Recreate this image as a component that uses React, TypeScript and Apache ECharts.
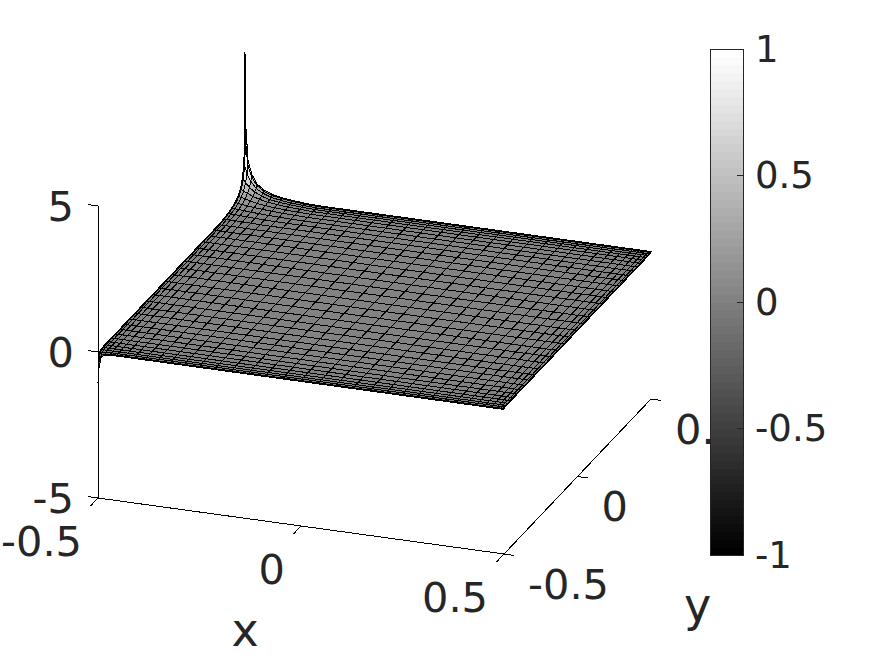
import React, { useEffect, useRef } from "react";
import * as echarts from "echarts";

// graded mesh coordinates of the surface (same for x and y)
const gridCoords = [
  -0.5, -0.4981, -0.4924, -0.483, -0.4698, -0.4532, -0.433, -0.4096, -0.383, -0.3536,
  -0.3214, -0.2868, -0.25, -0.2113, -0.171, -0.1294, -0.0868, -0.0436, 0,
  0.0436, 0.0868, 0.1294, 0.171, 0.2113, 0.25, 0.2868, 0.3214, 0.3536, 0.383,
  0.4096, 0.433, 0.4532, 0.4698, 0.483, 0.4924, 0.4981, 0.5,
];
// heights near the corner x=-0.5, y=0.5 (rows go from y=0.5 inwards, columns from x=-0.5 inwards)
const farCornerZ = [
  [4.9, 2.4, 1.2, 0.75, 0.45, 0.28, 0.17, 0.1, 0.06, 0.02],
  [2.4, 1.9, 1.1, 0.7, 0.43, 0.27, 0.16, 0.1, 0.06, 0.02],
  [1.2, 1.1, 0.85, 0.6, 0.38, 0.25, 0.15, 0.09, 0.05, 0.02],
  [0.75, 0.7, 0.6, 0.45, 0.32, 0.21, 0.13, 0.08, 0.05, 0.02],
  [0.45, 0.43, 0.38, 0.32, 0.24, 0.17, 0.11, 0.07, 0.04, 0.02],
  [0.28, 0.27, 0.25, 0.21, 0.17, 0.12, 0.08, 0.05, 0.03, 0.01],
  [0.17, 0.16, 0.15, 0.13, 0.11, 0.08, 0.06, 0.04, 0.02, 0.01],
  [0.1, 0.1, 0.09, 0.08, 0.07, 0.05, 0.04, 0.02, 0.01, 0],
  [0.06, 0.06, 0.05, 0.05, 0.04, 0.03, 0.02, 0.01, 0, 0],
  [0.02, 0.02, 0.02, 0.02, 0.02, 0.01, 0.01, 0, 0, 0],
];
// heights near the corner x=-0.5, y=-0.5 (rows from y=-0.5 inwards, columns from x=-0.5 inwards)
const nearCornerZ = [
  [-1, -0.55, -0.12, -0.02],
  [-0.55, -0.3, -0.08, -0.02],
  [-0.12, -0.08, -0.04, 0],
  [-0.02, -0.02, 0, 0],
];
// small boundary layers along the y=-0.5 and y=0.5 edges, from the edge inwards
const frontEdgeZ = [-0.05, -0.03, -0.01];
const farEdgeZ = [0.05, 0.03, 0.01];
const xTicks = [-0.5, 0, 0.5];
const yTicks = [-0.5, 0, 0.5];
const zTicks = [-5, 0, 5];
const colorbarTicks = [-1, -0.5, 0, 0.5, 1];

const last = gridCoords.length - 1;
const heightAt = (i: number, j: number) => {
  const fj = last - j;
  let z = 0;
  if (fj < farEdgeZ.length) z += farEdgeZ[fj];
  if (j < frontEdgeZ.length) z += frontEdgeZ[j];
  if (fj < farCornerZ.length && i < farCornerZ[0].length) z += farCornerZ[fj][i];
  if (j < nearCornerZ.length && i < nearCornerZ[0].length) z += nearCornerZ[j][i];
  return z;
};

// parallel projection of the 3D box onto the page scale
const project = (x: number, y: number, z: number) => [
  98 + (x + 0.5) * 406 + (y + 0.5) * 147,
  352 + (x + 0.5) * 56 - (y + 0.5) * 155 - z * 29.2,
];

const grayOf = (z: number) => {
  const k = Math.max(0, Math.min(63, Math.floor(((z + 1) / 2) * 64)));
  const v = Math.round((k / 63) * 255);
  return `rgb(${v},${v},${v})`;
};

const FONT = '"DejaVu Sans"';
const INK = "#262626";

const cells: number[][] = [];
for (let j = last - 1; j >= 0; j--) for (let i = 0; i < last; i++) cells.push([i, j]);

const zLow = -5;
const segments = [
  [[-0.5, -0.5, zLow], [0.5, -0.5, zLow]],
  [[0.5, -0.5, zLow], [0.5, 0.5, zLow]],
  [[-0.5, -0.5, zLow], [-0.5, -0.5, 5]],
  ...xTicks.map((v) => [[v, -0.5, zLow], [v, -0.55, zLow]]),
  ...yTicks.map((v) => [[0.5, v, zLow], [0.525, v, zLow]]),
  ...zTicks.map((v) => [[-0.5, -0.5, v], [-0.525, -0.5, v]]),
];

type Lab = { text: string; at: number[]; dx: number; dy: number; align: string; size: number };
const labels: Lab[] = [
  ...xTicks.map((v) => ({ text: String(v), at: [v, -0.5, zLow], dx: -16, dy: 43, align: "right", size: 41.5 })),
  ...yTicks.map((v) => ({ text: String(v), at: [0.5, v, zLow], dx: 24, dy: 30, align: "left", size: 41.5 })),
  ...zTicks.map((v) => ({ text: String(v), at: [-0.5, -0.5, v], dx: -24, dy: 0, align: "right", size: 41.5 })),
  { text: "x", at: [0, -0.5, zLow], dx: -56, dy: 104, align: "center", size: 46 },
  { text: "y", at: [0.5, 0, zLow], dx: 120, dy: 128, align: "center", size: 46 },
];

const bands = Array.from({ length: 64 }, (_, k) => k);

export default function App() {
  const ref = useRef<HTMLDivElement>(null);
  useEffect(() => {
    const chart = echarts.init(ref.current!, undefined, { renderer: "svg" });
    chart.setOption({
      animation: false,
      backgroundColor: "#ffffff",
      grid: [
        { left: 0, right: 0, top: 0, bottom: 0 },
        { left: 710, top: 49, width: 33, height: 506 },
      ],
      xAxis: [
        { gridIndex: 0, type: "value", min: 0, max: 875, show: false },
        { gridIndex: 1, type: "value", min: 0, max: 1, show: false },
      ],
      yAxis: [
        { gridIndex: 0, type: "value", min: 0, max: 656, inverse: true, show: false },
        {
          gridIndex: 1,
          type: "value",
          position: "right",
          min: -1,
          max: 1,
          interval: 0.5,
          z: 10,
          splitLine: { show: false },
          axisLine: { show: false },
          axisTick: { show: false },
          axisLabel: { margin: 12, color: INK, fontSize: 37, fontFamily: FONT },
        },
      ],
      series: [
        {
          type: "custom",
          name: "axes",
          coordinateSystem: "cartesian2d",
          xAxisIndex: 0,
          yAxisIndex: 0,
          z: 1,
          silent: true,
          clip: false,
          data: segments.map((_, k) => [k]),
          renderItem: (_p: any, api: any) => {
            const s = segments[api.value(0)];
            const a = api.coord(project(s[0][0], s[0][1], s[0][2]));
            const b = api.coord(project(s[1][0], s[1][1], s[1][2]));
            return {
              type: "line",
              shape: { x1: a[0], y1: a[1], x2: b[0], y2: b[1] },
              style: { stroke: "#000", lineWidth: 1 },
            };
          },
        },
        {
          type: "custom",
          name: "labels",
          coordinateSystem: "cartesian2d",
          xAxisIndex: 0,
          yAxisIndex: 0,
          z: 1,
          silent: true,
          clip: false,
          data: labels.map((_, k) => [k]),
          renderItem: (_p: any, api: any) => {
            const l = labels[api.value(0)];
            const p = api.coord(project(l.at[0], l.at[1], l.at[2]));
            return {
              type: "text",
              style: {
                text: l.text,
                x: p[0] + l.dx,
                y: p[1] + l.dy,
                align: l.align,
                verticalAlign: "middle",
                fill: INK,
                fontSize: l.size,
                fontFamily: FONT,
              },
            };
          },
        },
        {
          type: "custom",
          name: "surface",
          coordinateSystem: "cartesian2d",
          xAxisIndex: 0,
          yAxisIndex: 0,
          z: 2,
          silent: true,
          clip: false,
          data: cells,
          renderItem: (_p: any, api: any) => {
            const i = api.value(0);
            const j = api.value(1);
            const corner = [
              [i, j],
              [i + 1, j],
              [i + 1, j + 1],
              [i, j + 1],
            ];
            const pts = corner.map(([a, b]) =>
              api.coord(project(gridCoords[a], gridCoords[b], heightAt(a, b)))
            );
            const mean = corner.reduce((t, [a, b]) => t + heightAt(a, b), 0) / 4;
            return {
              type: "polygon",
              shape: { points: pts },
              style: { fill: grayOf(mean), stroke: "#000", lineWidth: 1 },
            };
          },
        },
        {
          type: "custom",
          name: "colorbar",
          coordinateSystem: "cartesian2d",
          xAxisIndex: 1,
          yAxisIndex: 1,
          z: 5,
          silent: true,
          data: bands.map((k) => [k]),
          renderItem: (_p: any, api: any) => {
            const k = api.value(0);
            const lo = -1 + (k / 64) * 2;
            const hi = -1 + ((k + 1) / 64) * 2;
            const a = api.coord([0, hi]);
            const b = api.coord([1, lo]);
            const v = Math.round((k / 63) * 255);
            return {
              type: "rect",
              shape: { x: a[0], y: a[1], width: b[0] - a[0], height: b[1] - a[1] + 0.5 },
              style: { fill: `rgb(${v},${v},${v})` },
            };
          },
        },
        {
          type: "custom",
          name: "colorbarFrame",
          coordinateSystem: "cartesian2d",
          xAxisIndex: 1,
          yAxisIndex: 1,
          z: 6,
          silent: true,
          clip: false,
          data: colorbarTicks.map((v) => [v]),
          renderItem: (_p: any, api: any) => {
            const v = api.value(0);
            const a = api.coord([0, 1]);
            const b = api.coord([1, -1]);
            const t = api.coord([1, v]);
            return {
              type: "group",
              children: [
                {
                  type: "rect",
                  shape: { x: a[0], y: a[1], width: b[0] - a[0], height: b[1] - a[1] },
                  style: { fill: "none", stroke: INK, lineWidth: 1 },
                },
                {
                  type: "line",
                  shape: { x1: t[0] - 6, y1: t[1], x2: t[0], y2: t[1] },
                  style: { stroke: INK, lineWidth: 1 },
                },
              ],
            };
          },
        },
      ],
    });
    return () => chart.dispose();
  }, []);
  return (
    <>
      <style>{"svg path{shape-rendering:crispEdges}"}</style>
      <div
        ref={ref}
        style={{ position: "absolute", left: 0, top: 0, width: 875, height: 656 }}
      />
    </>
  );
}
